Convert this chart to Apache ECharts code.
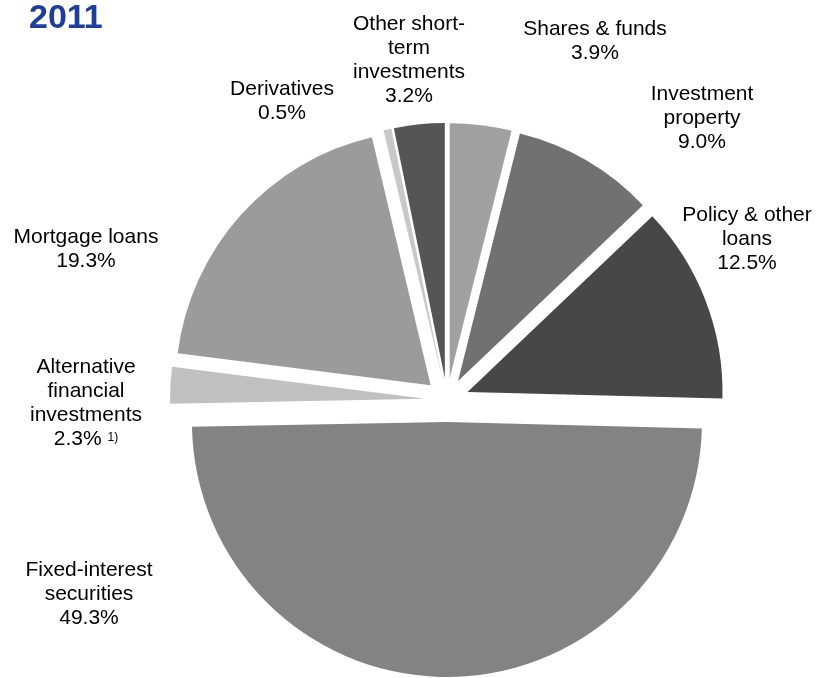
<!DOCTYPE html>
<html>
<head>
<meta charset="utf-8">
<script src="https://cdn.jsdelivr.net/npm/echarts@6/dist/echarts.min.js"></script>
<style>
  html, body { margin: 0; padding: 0; background: #ffffff; }
  #chart { width: 817px; height: 678px; }
</style>
</head>
<body>
<div id="chart"></div>
<script>
// Investment portfolio breakdown, 2011 (share of total, %)
const categories = [
  'Shares & funds',
  'Investment property',
  'Policy & other loans',
  'Fixed-interest securities',
  'Alternative financial investments',
  'Mortgage loans',
  'Derivatives',
  'Other short-term investments'
];
const shares = [3.9, 9.0, 12.5, 49.3, 2.3, 19.3, 0.5, 3.2];
const labelNames = [
  'Shares & funds',
  'Investment\nproperty',
  'Policy & other\nloans',
  'Fixed-interest\nsecurities',
  'Alternative\nfinancial\ninvestments',
  'Mortgage loans',
  'Derivatives',
  'Other short-\nterm\ninvestments'
];
const footnotes = ['', '', '', '', '1)', '', '', ''];
const yearTitle = '2011';

// Presentation: slice greys and label anchor points (block centres)
const sliceColors = ['#a0a0a0', '#717171', '#474747', '#838383', '#c0c0c0', '#9b9b9b', '#c8c8c8', '#555555'];
const labelAnchors = [[595, 41], [702, 118], [747, 239], [89, 594], [86, 403], [86, 249], [282, 101], [409, 60]];

const FONT = '"Liberation Sans", Arial, sans-serif';

const pieData = categories.map((name, i) => ({
  name: name,
  value: shares[i],
  selected: true,
  itemStyle: { color: sliceColors[i] },
  select: { itemStyle: { color: sliceColors[i] } }
}));

// Category labels: name lines followed by the percentage (and footnote mark)
const labelGraphics = categories.map((name, i) => {
  let txt = labelNames[i] + '\n' + shares[i].toFixed(1) + '%';
  if (footnotes[i]) txt += ' {sup|' + footnotes[i] + '}';
  return {
    type: 'text',
    x: labelAnchors[i][0],
    y: labelAnchors[i][1],
    silent: true,
    style: {
      text: txt,
      fill: '#000000',
      font: '21px ' + FONT,
      lineHeight: 24,
      align: 'center',
      verticalAlign: 'middle',
      rich: {
        sup: { fontSize: 12, fontFamily: FONT, fill: '#000000', lineHeight: 24, padding: [0, 0, 2, 0] }
      }
    }
  };
});

const chart = echarts.init(document.getElementById('chart'), null, { renderer: 'canvas' });

chart.setOption({
  animation: false,
  backgroundColor: '#ffffff',
  graphic: [{
    type: 'text',
    left: 29,
    top: 2,
    silent: true,
    style: {
      text: yearTitle,
      fill: '#1b3f9b',
      font: 'bold 34px ' + FONT
    }
  }].concat(labelGraphics),
  series: [{
    type: 'pie',
    center: [447, 400],
    radius: [0, 255],
    startAngle: 90,
    clockwise: true,
    selectedMode: 'multiple',
    selectedOffset: 22,
    avoidLabelOverlap: false,
    silent: true,
    itemStyle: { borderWidth: 0 },
    emphasis: { disabled: true },
    label: { show: false },
    labelLine: { show: false },
    data: pieData
  }]
});
</script>
</body>
</html>
